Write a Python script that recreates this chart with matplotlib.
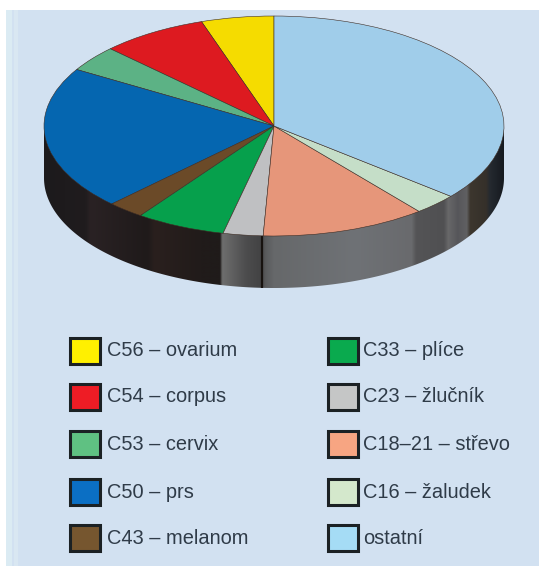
import matplotlib
matplotlib.use('Agg')
import matplotlib.pyplot as plt
import numpy as np
from matplotlib.colors import to_rgb
from matplotlib.patches import Polygon, Rectangle

plt.rcParams['font.family'] = ['Liberation Sans', 'DejaVu Sans']

# counter-clockwise from 12 o'clock, percent
labels = ['C56 – ovarium', 'C54 – corpus', 'C53 – cervix', 'C50 – prs', 'C43 – melanom',
          'C33 – plíce', 'C23 – žlučník', 'C18–21 – střevo', 'C16 – žaludek', 'ostatní']
shares = [5.1, 7.5, 3.8, 21.1, 2.6, 6.3, 2.8, 11.6, 3.1, 36.0]
slice_colors = ['#f5dc00', '#dd1a20', '#5cb285', '#0566b0', '#6b4a28',
                '#06a04c', '#bfc0c2', '#e6967a', '#c5dec8', '#a0cdea']
swatch_colors = ['#fff000', '#ee1c25', '#5fc182', '#0b6fc4', '#76562f',
                 '#0aaa4e', '#c5c6c6', '#f7a582', '#d4e8cc', '#a5dcf5']

W, H = 539, 566
fig = plt.figure(figsize=(W / 100, H / 100), dpi=100, facecolor='white')

# page panel and legend use pixel coordinates
page = fig.add_axes([0, 0, 1, 1])
page.set_xlim(0, W)
page.set_ylim(H, 0)
page.axis('off')
page.add_patch(Rectangle((6, 10), W, H, fc='#d2e1f1', ec='none'))
page.add_patch(Rectangle((6, 10), 6, H, fc='#dbebf3', ec='none'))
page.add_patch(Rectangle((14, 10), 4, H, fc='#d9e7f2', ec='none'))

# pie top is a unit circle squeezed into an ellipse by the axes box
left, right = 44, 504
top, bottom, wall_bottom = 16, 236, 288
ax = fig.add_axes([left / W, 1 - wall_bottom / H, (right - left) / W, (wall_bottom - top) / H])
ax.patch.set_alpha(0)
y_span = 2 * (wall_bottom - top) / (bottom - top)
depth = y_span - 2
ax.pie(shares, colors=slice_colors, startangle=90, counterclock=True, radius=1,
       wedgeprops=dict(edgecolor='#3d2c24', linewidth=0.4))

# side wall: horizontal shading clipped to the band under the rim
stops = [-1.0, -0.82, -0.80, -0.55, -0.52, -0.32, -0.235, -0.225, -0.12, -0.06, -0.035,
         0.0, 0.35, 0.60, 0.62, 0.74, 0.76, 0.80, 0.84, 0.855, 0.925, 0.94, 1.0]
shades = ['#1c1a1c', '#201c1e', '#2a2224', '#1f1a1a', '#2a201e', '#211b1a', '#1f1b1a',
          '#6e6e6e', '#4c4c4d', '#434344', '#5a5b5d', '#66686a', '#6f7276', '#696a6d',
          '#545456', '#505052', '#686869', '#56565a', '#606062', '#3c362e', '#35302a',
          '#252a30', '#161a20']
shade_rgb = np.array([to_rgb(c) for c in shades])
grid = np.linspace(-1, 1, 461)
strip = np.stack([np.interp(grid, stops, shade_rgb[:, i]) for i in range(3)], axis=-1)
wall = ax.imshow(strip[None, :, :], extent=(-1, 1, 1 - y_span, 1), aspect='auto',
                 interpolation='bilinear', zorder=0.5)
rim = np.cos(np.linspace(np.pi, 2 * np.pi, 361))
rim_y = -np.sqrt(np.clip(1 - rim ** 2, 0, 1))
band = Polygon(np.r_[np.c_[rim, rim_y - depth], np.c_[rim[::-1], rim_y[::-1] + 0.02]],
               closed=True, fc='none', ec='none')
ax.add_patch(band)
wall.set_clip_path(band)

# black seam on the wall under the C23 / C18-21 boundary
seam = np.deg2rad(90 + 3.6 * sum(shares[:7]))
seam_x, seam_y = np.cos(seam), np.sin(seam)
ax.plot([seam_x, seam_x], [seam_y, seam_y - depth], color='#17120f', lw=1.6, zorder=0.6,
        solid_capstyle='butt')

ax.set_aspect('auto')
ax.set_xlim(-1, 1)
ax.set_ylim(1 - y_span, 1)

# legend
rows = [351, 397, 444, 492, 538]
for i, (label, color) in enumerate(zip(labels, swatch_colors)):
    box_x = 70 if i < 5 else 328
    text_x = 107 if i < 5 else 363
    y = rows[i % 5]
    page.add_patch(Rectangle((box_x, y - 13), 30, 26, fc=color, ec='#1b2124', lw=2.2))
    page.text(text_x, y, label, fontsize=14.4, color='#2f3b48', ha='left', va='center')

fig.savefig('out.png', dpi=100)
